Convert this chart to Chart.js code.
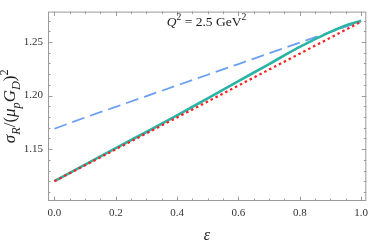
<!DOCTYPE html>
<html>
<head>
<meta charset="utf-8">
<script src="https://cdn.jsdelivr.net/npm/chart.js@4"></script>
<style>
  html, body { margin: 0; padding: 0; background: #fff; }
  #wrap { width: 374px; height: 244px; }
</style>
</head>
<body>
<div id="wrap"><canvas id="chart"></canvas></div>
<script>
// values
const EPSILON      = [0, 0.1, 0.2, 0.3, 0.4, 0.5, 0.6, 0.7, 0.8, 0.9, 0.95, 1.0];
const SOLID_CYAN   = [1.120, 1.1355, 1.151, 1.166, 1.1815, 1.1975, 1.2135, 1.2295, 1.2455, 1.2595, 1.2655, 1.270];
const DASHED_BLUE  = [1.169, 1.1795, 1.1895, 1.1995, 1.2095, 1.2195, 1.2295, 1.2395, 1.2495, 1.2595, 1.2645, 1.2695];
const DOTTED_RED   = [1.120, 1.1349, 1.1498, 1.1647, 1.1796, 1.1945, 1.2094, 1.2243, 1.2392, 1.2541, 1.2616, 1.269];

const X_TICKS = [0, 0.2, 0.4, 0.6, 0.8, 1.0];
const Y_TICKS = [1.15, 1.20, 1.25];
const X_MINOR_STEP = 0.05;
const Y_MINOR_STEP = 0.01;

const SERIF = '"Liberation Serif", "DejaVu Serif", serif';
const FRAME_COLOR = '#9a9a9a';

function toPoints(ys) {
    return EPSILON.map((x, i) => ({ x, y: ys[i] }));
}

// draws a row of text pieces with sub/superscripts, centered or left aligned at (x, y)
function drawRich(ctx, parts, x, y, size, align) {
    const pieces = parts.map(p => {
        const s = p.shift ? size * 0.72 : size;
        const font = `${p.italic ? 'italic ' : ''}${s}px ${SERIF}`;
        ctx.font = font;
        return { ...p, font, w: ctx.measureText(p.t).width };
    });
    const total = pieces.reduce((a, p) => a + p.w, 0);
    let cx = align === 'center' ? x - total / 2 : x;
    ctx.textAlign = 'left';
    ctx.textBaseline = 'alphabetic';
    pieces.forEach(p => {
        ctx.font = p.font;
        let dy = 0;
        if (p.shift === 'sub') dy = size * 0.28;
        if (p.shift === 'sup') dy = -size * 0.42;
        ctx.fillText(p.t, cx, y + dy);
        cx += p.w;
    });
}

const framePlugin = {
    id: 'frame',
    beforeDatasetsDraw(chart) {
        const { ctx, chartArea: a, scales: { x, y } } = chart;
        ctx.save();
        ctx.strokeStyle = FRAME_COLOR;
        ctx.lineWidth = 1;
        ctx.strokeRect(a.left + 0.5, a.top + 0.5, a.right - a.left - 1, a.bottom - a.top - 1);

        ctx.beginPath();
        for (let v = 0; v <= 1.0001; v += X_MINOR_STEP) {
            const major = X_TICKS.some(t => Math.abs(t - v) < 1e-6);
            const len = major ? 4.5 : 2.5;
            const px = Math.round(x.getPixelForValue(v)) + 0.5;
            ctx.moveTo(px, a.bottom);
            ctx.lineTo(px, a.bottom - len);
            ctx.moveTo(px, a.top);
            ctx.lineTo(px, a.top + len);
        }
        for (let v = 1.11; v <= 1.2701; v += Y_MINOR_STEP) {
            const major = Y_TICKS.some(t => Math.abs(t - v) < 1e-6);
            const len = major ? 4.5 : 2.5;
            const py = Math.round(y.getPixelForValue(v)) + 0.5;
            ctx.moveTo(a.left, py);
            ctx.lineTo(a.left + len, py);
            ctx.moveTo(a.right, py);
            ctx.lineTo(a.right - len, py);
        }
        ctx.stroke();
        ctx.restore();
    },
    afterDraw(chart) {
        const { ctx, scales: { x, y } } = chart;
        ctx.save();
        ctx.fillStyle = '#222';

        // annotation
        drawRich(ctx, [
            { t: 'Q', italic: true },
            { t: '2', shift: 'sup' },
            { t: ' = 2.5 GeV' },
            { t: '2', shift: 'sup' }
        ], x.getPixelForValue(0.366), 26, 13.5, 'left');

        // x title
        drawRich(ctx, [{ t: 'ε', italic: true }], x.getPixelForValue(0.497), 240, 16, 'center');

        // y title, rotated
        ctx.translate(15, y.getPixelForValue(1.19));
        ctx.rotate(-Math.PI / 2);
        drawRich(ctx, [
            { t: 'σ', italic: true },
            { t: 'R', italic: true, shift: 'sub' },
            { t: '/(' },
            { t: 'μ', italic: true },
            { t: 'p', italic: true, shift: 'sub' },
            { t: 'G', italic: true },
            { t: 'D', italic: true, shift: 'sub' },
            { t: ')' },
            { t: '2', shift: 'sup' }
        ], 0, 0, 17, 'center');
        ctx.restore();
    }
};

new Chart(document.getElementById('chart'), {
    type: 'line',
    data: {
        datasets: [
            {
                label: 'dotted',
                data: toPoints(DOTTED_RED),
                borderColor: '#ff1f1f',
                borderWidth: 2.2,
                borderDash: [2.5, 3],
                pointRadius: 0,
                cubicInterpolationMode: 'monotone',
                order: 1
            },
            {
                label: 'solid',
                data: toPoints(SOLID_CYAN),
                borderColor: '#2bb3a6',
                borderWidth: 2.6,
                pointRadius: 0,
                cubicInterpolationMode: 'monotone',
                order: 2
            },
            {
                label: 'dashed',
                data: toPoints(DASHED_BLUE),
                borderColor: '#6b9ff2',
                borderWidth: 1.8,
                borderDash: [13, 6],
                pointRadius: 0,
                cubicInterpolationMode: 'monotone',
                order: 3
            }
        ]
    },
    options: {
        responsive: true,
        maintainAspectRatio: false,
        animation: false,
        layout: { padding: { top: 0, right: 2, left: 0, bottom: 0 } },
        plugins: {
            legend: { display: false },
            tooltip: { enabled: false }
        },
        scales: {
            x: {
                type: 'linear',
                min: -0.021,
                max: 1.017,
                afterBuildTicks: s => { s.ticks = X_TICKS.map(value => ({ value })); },
                afterFit: s => { s.height = 43; },
                grid: { display: false, drawTicks: false },
                border: { display: false },
                ticks: {
                    padding: 6,
                    color: '#333',
                    font: { family: SERIF, size: 11 },
                    callback: v => v.toFixed(1),
                    maxRotation: 0
                }
            },
            y: {
                type: 'linear',
                min: 1.1015,
                max: 1.2785,
                afterBuildTicks: s => { s.ticks = Y_TICKS.map(value => ({ value })); },
                afterFit: s => { s.width = 48; },
                grid: { display: false, drawTicks: false },
                border: { display: false },
                ticks: {
                    padding: 5,
                    color: '#333',
                    font: { family: SERIF, size: 11 },
                    callback: v => v.toFixed(2)
                }
            }
        }
    },
    plugins: [framePlugin]
});
</script>
</body>
</html>
